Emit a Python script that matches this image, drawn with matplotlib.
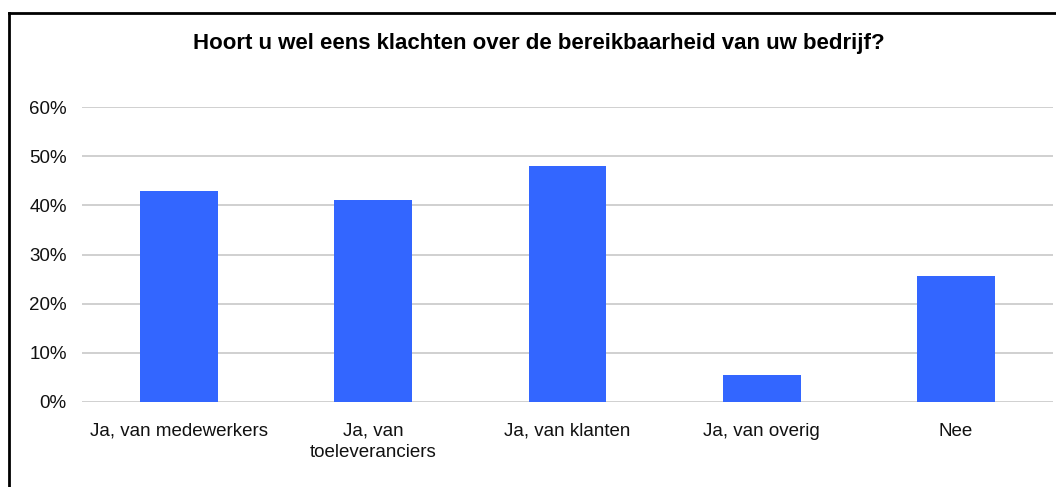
import numpy as np
import matplotlib
matplotlib.use('Agg')
import matplotlib.pyplot as plt
from matplotlib.lines import Line2D

plt.rcParams['font.family'] = ['Liberation Sans', 'DejaVu Sans']

# data
categories = ['Ja, van medewerkers', 'Ja, van\ntoeleveranciers', 'Ja, van klanten',
              'Ja, van overig', 'Nee']
values = [0.43, 0.41, 0.48, 0.055, 0.256]
yticks = [0, 0.1, 0.2, 0.3, 0.4, 0.5, 0.6]
title = 'Hoort u wel eens klachten over de bereikbaarheid van uw bedrijf?'

W, H = 1056, 487
fig = plt.figure(figsize=(W/100, H/100), dpi=100)
ax = fig.add_axes([82/W, 85/H, (1053-82)/W, (402-107)/H])

x = np.arange(len(categories))
ax.bar(x, values, width=0.4, color='#3366FF', zorder=2)

ax.set_xlim(-0.5, len(categories)-0.5)
ax.set_ylim(0, 0.6)
ax.set_yticks(yticks)
ax.set_yticklabels(['%d%%' % round(v*100) for v in yticks])
ax.set_xticks(x)
ax.set_xticklabels(categories, linespacing=1.3)
ax.tick_params(axis='both', length=0, labelsize=13.5, colors='#111111')
ax.tick_params(axis='x', pad=15)
ax.tick_params(axis='y', pad=11)
ax.grid(axis='y', color='#c8c8c8', linewidth=1.2, zorder=0)
for s in ax.spines.values():
    s.set_visible(False)

fig.text(539/W, 1-43/H, title, ha='center', va='center',
         fontsize=16, fontweight='bold')

# chart frame (only left and top edges show in the crop)
fig.add_artist(Line2D([9/W, 9/W], [0, 1-13/H], color='black', linewidth=2))
fig.add_artist(Line2D([9/W, 1], [1-13/H, 1-13/H], color='black', linewidth=2))

fig.savefig('out.png', dpi=100)
